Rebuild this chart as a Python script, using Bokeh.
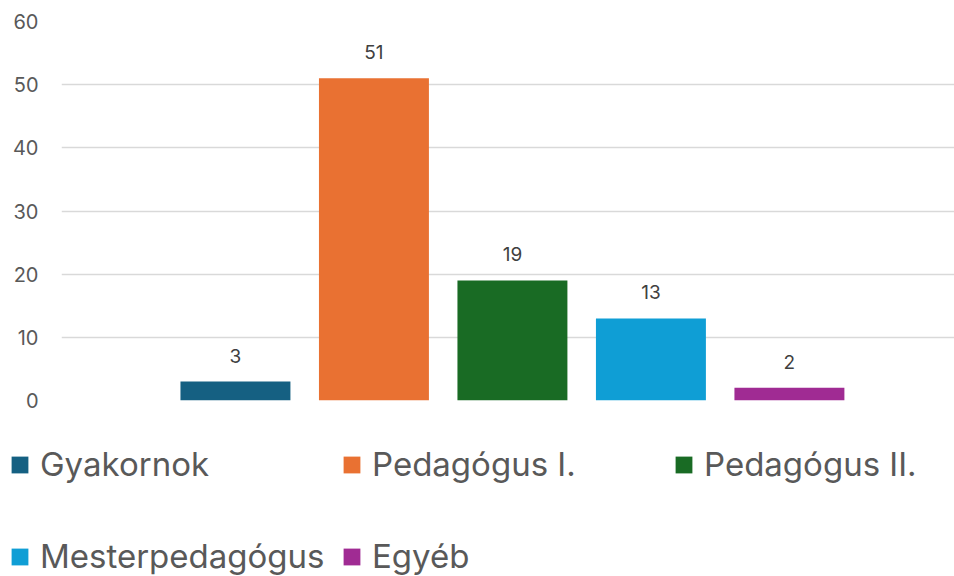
from bokeh.plotting import figure
from bokeh.models import ColumnDataSource, Range1d, Legend, LegendItem
from bokeh.layouts import column
from bokeh.embed import file_html
from bokeh.resources import INLINE
from bokeh.core.properties import value

categories = ["Gyakornok", "Pedagógus I.", "Pedagógus II.", "Mesterpedagógus", "Egyéb"]
values = [3, 51, 19, 13, 2]
colors = ["#156082", "#E97132", "#196B24", "#0F9ED5", "#A02B93"]
y_ticks = [0, 10, 20, 30, 40, 50, 60]

FONT = "Inter"
TEXT = "#595959"

xs = list(range(len(categories)))

# ---- chart ----
p = figure(width=954, height=430, output_backend="svg", toolbar_location=None,
           x_range=Range1d(-1.256, 5.192), y_range=Range1d(0, 60),
           min_border_left=61, min_border_right=0, min_border_top=21, min_border_bottom=30)
p.frame_align = False
p.outline_line_color = None
p.xaxis.visible = False
p.xgrid.visible = False
p.ygrid.grid_line_color = "#d9d9d9"
p.ygrid.grid_line_width = 1.5
p.yaxis.ticker = y_ticks
p.yaxis.axis_line_color = None
p.yaxis.major_tick_line_color = None
p.yaxis.minor_tick_line_color = None
p.yaxis.major_label_standoff = 17
p.yaxis.major_label_text_font = FONT
p.yaxis.major_label_text_font_size = "20px"
p.yaxis.major_label_text_color = TEXT

src = ColumnDataSource(dict(x=xs, top=values, label=[str(v) for v in values]))
for i in range(len(categories)):
    p.vbar(x=[xs[i]], top=[values[i]], width=0.794, color=colors[i], line_color=None)

p.text(x="x", y="top", text="label", source=src, text_align="center",
       text_baseline="alphabetic", y_offset=-26, text_font=value(FONT),
       text_font_size="19px", text_color="#404040")

# ---- legend strip ----
q = figure(width=954, height=146, output_backend="svg", toolbar_location=None,
           x_range=Range1d(-20, -10), y_range=Range1d(-20, -10),
           min_border_left=0, min_border_right=0, min_border_top=0, min_border_bottom=0)
q.frame_align = False
q.outline_line_color = None
q.axis.visible = False
q.grid.visible = False
legend_renderers = []
for i in range(len(categories)):
    legend_renderers.append(q.vbar(x=[xs[i]], top=[values[i]], width=0.794,
                                   color=colors[i], line_color=None))

def make_legend(idx, loc):
    return Legend(items=[LegendItem(label=categories[i], renderers=[legend_renderers[i]]) for i in idx],
                  orientation="horizontal", glyph_width=21, glyph_height=21,
                  label_standoff=10, label_width=291, spacing=10, padding=0, margin=0,
                  label_text_font=FONT, label_text_font_size="33px", label_text_color=TEXT,
                  border_line_color=None, background_fill_alpha=0,
                  location=loc)

q.add_layout(make_legend([0, 1, 2], (9, 92)), "center")
q.add_layout(make_legend([3, 4], (9, 0)), "center")

open("out.html", "w").write(file_html(column(p, q, spacing=0), INLINE))
